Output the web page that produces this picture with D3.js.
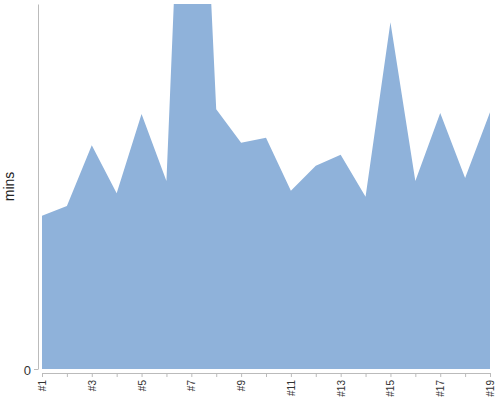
<!DOCTYPE html>
<html>
<head>
<meta charset="utf-8">
<script src="https://cdn.jsdelivr.net/npm/d3@7"></script>
<style>
  body { margin: 0; background: #fff; }
  svg { display: block; font-family: "Liberation Sans", Arial, sans-serif; }
  .axis path, .axis line { stroke: #bbb; }
  .axis text { fill: #333; }
</style>
</head>
<body>
<svg width="500" height="400"></svg>
<script>
// episodes and their running time (mins)
var episodes = d3.range(1, 20).map(function(d) { return "#" + d; });
var mins = [25.2, 26.8, 36.8, 28.9, 41.9, 30.9, 129.7, 42.7, 37.2, 38.0,
            29.3, 33.4, 35.2, 28.3, 57.0, 30.9, 42.1, 31.4, 42.2];
var yDomain = [0, 60];
var yTicks = [0];

var svg = d3.select("svg");
var margin = { top: 4, left: 42, right: 10, bottom: 31 };
var width = 500 - margin.left - margin.right;
var height = 400 - margin.top - margin.bottom;

var g = svg.append("g")
  .attr("transform", "translate(" + margin.left + "," + margin.top + ")");

var x = d3.scalePoint().domain(episodes).range([0, width]);
var y = d3.scaleLinear().domain(yDomain).range([height, 0]);

// keep the tall episode inside the plot
g.append("clipPath").attr("id", "clip")
  .append("rect").attr("width", width).attr("height", height);

var area = d3.area()
  .x(function(d, i) { return x(episodes[i]); })
  .y0(height)
  .y1(function(d) { return y(d); });

g.append("path")
  .datum(mins)
  .attr("clip-path", "url(#clip)")
  .attr("fill", "#8fb2da")
  .attr("d", area);

// y axis, pushed a little to the left
var yAxis = g.append("g").attr("class", "axis")
  .attr("transform", "translate(-4,0)")
  .call(d3.axisLeft(y).tickValues(yTicks).tickSize(4).tickSizeOuter(0));
yAxis.selectAll("text").style("font-size", "13px").attr("dy", "0.4em");

g.append("text")
  .attr("transform", "translate(-28," + (height / 2) + ") rotate(-90)")
  .attr("text-anchor", "middle")
  .style("font-size", "14px")
  .attr("fill", "#222")
  .text("mins");

// x axis, a few px under the area
var xAxis = g.append("g").attr("class", "axis")
  .attr("transform", "translate(0," + (height + 4) + ")")
  .call(d3.axisBottom(x).tickSize(4).tickSizeOuter(0)
    .tickFormat(function(d, i) { return i % 2 === 0 ? d : ""; }));
xAxis.selectAll("text")
  .style("font-size", "10px")
  .attr("text-anchor", "end")
  .attr("transform", "rotate(-90)")
  .attr("x", -7)
  .attr("y", 0)
  .attr("dy", "0.35em");
</script>
</body>
</html>
